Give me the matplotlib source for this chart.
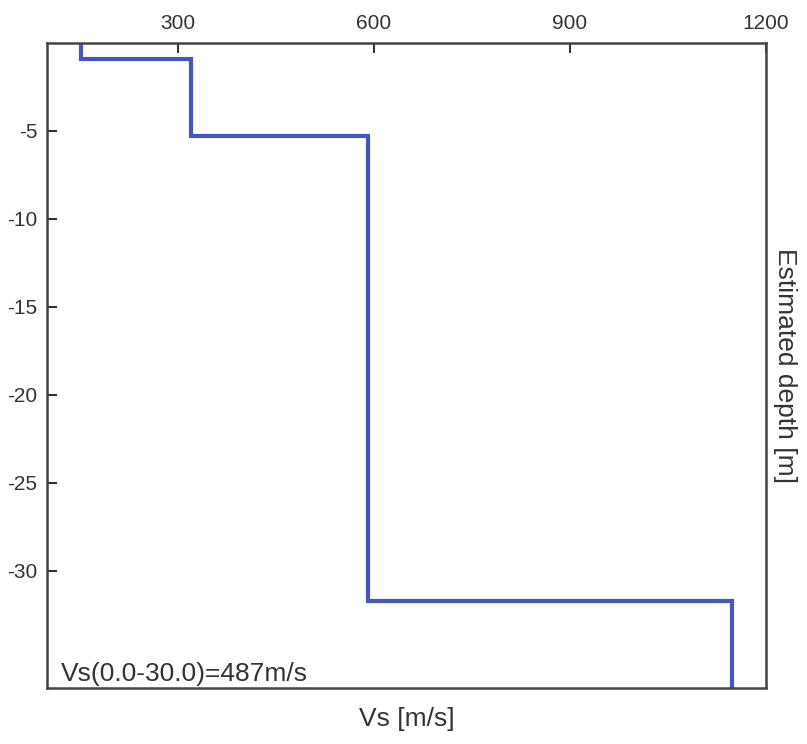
import matplotlib
matplotlib.use('Agg')

import numpy as np
import matplotlib.pyplot as plt

#========================================================
# layered Vs profile
vs = [152, 320, 591, 1148]          # m/s
layer_top = [0.0, -0.9, -5.3, -31.7]  # m
depth_bottom = -36.65
vs30_text = 'Vs(0.0-30.0)=487m/s'
xticks = [300, 600, 900, 1200]
yticks = [-5, -10, -15, -20, -25, -30]
#========================================================

plt.rcParams['font.family'] = ['Liberation Sans', 'DejaVu Sans']
plt.rcParams['axes.unicode_minus'] = False

fig = plt.figure(figsize=(8.07, 7.44), dpi=100)
ax = fig.add_axes([0.0582, 0.0753, 0.891, 0.867])

x = np.repeat(vs, 2)
y = np.repeat(layer_top + [depth_bottom], 2)[1:-1]
ax.plot(x, y, color='#4558bd', lw=3.0, solid_joinstyle='miter')

ax.set_xlim(100, 1200)
ax.set_ylim(depth_bottom, 0)
ax.set_xticks(xticks)
ax.set_yticks(yticks)

ax.xaxis.tick_top()
ax.tick_params(axis='both', direction='in', length=7, width=1.5,
               color='#333333', labelsize=15, labelcolor='#333333', pad=7)
for s in ax.spines.values():
    s.set_color('#444444')
    s.set_linewidth(1.8)

ax.set_xlabel('Vs [m/s]', fontsize=19, color='#333333', labelpad=14)
ax.xaxis.set_label_position('bottom')
ax.yaxis.set_label_position('right')
ax.set_ylabel('Estimated depth [m]', fontsize=19, color='#333333',
              rotation=-90, labelpad=22)

ax.text(0.02, 0.003, vs30_text, transform=ax.transAxes, fontsize=19,
        color='#333333', ha='left', va='bottom')

fig.savefig('out.png', dpi=100)
